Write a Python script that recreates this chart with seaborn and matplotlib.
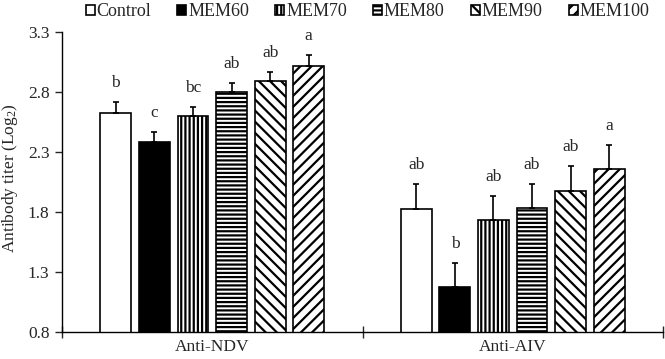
import matplotlib
matplotlib.use("Agg")
import matplotlib.pyplot as plt
import seaborn as sns
import pandas as pd
import numpy as np

# Chart data
groups = ['Anti-NDV', 'Anti-AIV']
treatments = ['Control', 'MEM60', 'MEM70', 'MEM80', 'MEM90', 'MEM100']
ndv_mean = [2.63, 2.39, 2.60, 2.80, 2.89, 3.02]
ndv_se = [0.09, 0.08, 0.08, 0.08, 0.08, 0.09]
aiv_mean = [1.83, 1.18, 1.74, 1.84, 1.98, 2.16]
aiv_se = [0.21, 0.20, 0.20, 0.20, 0.21, 0.20]
ndv_letters = ['b', 'c', 'bc', 'ab', 'ab', 'a']
aiv_letters = ['ab', 'b', 'ab', 'ab', 'ab', 'a']
y_ticks = [0.8, 1.3, 1.8, 2.3, 2.8, 3.3]

colors = ['white', 'black', 'white', 'white', 'white', 'white']
hatches = ['', '', '||||', '----', '\\\\\\', '///']

df = pd.DataFrame({
    'group': [groups[0]] * 6 + [groups[1]] * 6,
    'treatment': treatments * 2,
    'value': ndv_mean + aiv_mean,
})
se = {groups[0]: ndv_se, groups[1]: aiv_se}
letters = {groups[0]: ndv_letters, groups[1]: aiv_letters}

sns.set_style('white')
plt.rcParams['font.family'] = ['Liberation Serif', 'DejaVu Serif']
plt.rcParams['mathtext.default'] = 'regular'
plt.rcParams['hatch.linewidth'] = 1.6
plt.rcParams['hatch.color'] = 'black'
fs = 12.5

fig = plt.figure(figsize=(6.65, 3.59), dpi=100)
ax = fig.add_axes([62 / 665, 1 - 332.3 / 359, 601 / 665, 300 / 359])

sns.barplot(data=df, x='group', y='value', hue='treatment', order=groups,
            hue_order=treatments, palette=colors, width=0.77, gap=0.2,
            edgecolor='black', linewidth=1.2, errorbar=None, legend=False, ax=ax)

bar_containers = list(ax.containers)
for i, cont in enumerate(bar_containers):
    xs, ys, errs = [], [], []
    for j, p in enumerate(cont.patches):
        p.set_hatch(hatches[i])
        p.set_facecolor(colors[i])
        p.set_edgecolor('black')
        g = groups[j]
        x = p.get_x() + p.get_width() / 2
        y = p.get_height()
        e = se[g][i]
        xs.append(x)
        ys.append(y)
        errs.append(e)
        ax.text(x, y + e + 0.09, letters[g][i], ha='center', va='bottom', fontsize=fs)
    ax.errorbar(xs, ys, yerr=[np.zeros(len(errs)), errs], fmt='none', ecolor='black',
                elinewidth=1.2, capsize=2.2, capthick=1.2)

ax.set_xlim(-0.5, 1.5)
ax.set_ylim(0.8, 3.3)
ax.set_yticks(y_ticks)
ax.set_yticklabels([f'{t:.1f}' for t in y_ticks], fontsize=fs)
ax.set_xticks([0, 1])
ax.set_xticklabels(groups, fontsize=fs)
ax.set_xticks([-0.5, 0.5, 1.5], minor=True)
ax.tick_params(axis='x', which='major', length=0, pad=5)
ax.tick_params(axis='x', which='minor', direction='inout', length=8, width=1, bottom=True)
ax.tick_params(axis='y', direction='out', length=5, width=1, left=True, pad=4)
ax.set_xlabel('')
ax.set_ylabel('')
fig.text(10 / 665, 1 - 178 / 359, 'Antibody titer (Log$_{2}$)', rotation=90,
         ha='center', va='center', fontsize=fs)
sns.despine(ax=ax)
for s in ['left', 'bottom']:
    ax.spines[s].set_color('black')
    ax.spines[s].set_linewidth(1)

handles = [cont.patches[0] for cont in bar_containers]
fig.legend(handles, treatments, loc='center', bbox_to_anchor=(367.5 / 665, 1 - 12 / 359), ncol=6,
           frameon=False, fontsize=13, handlelength=0.5, handleheight=0.5,
           handletextpad=0.1, columnspacing=1.45, borderaxespad=0, borderpad=0)

fig.savefig('out.png', dpi=100)
